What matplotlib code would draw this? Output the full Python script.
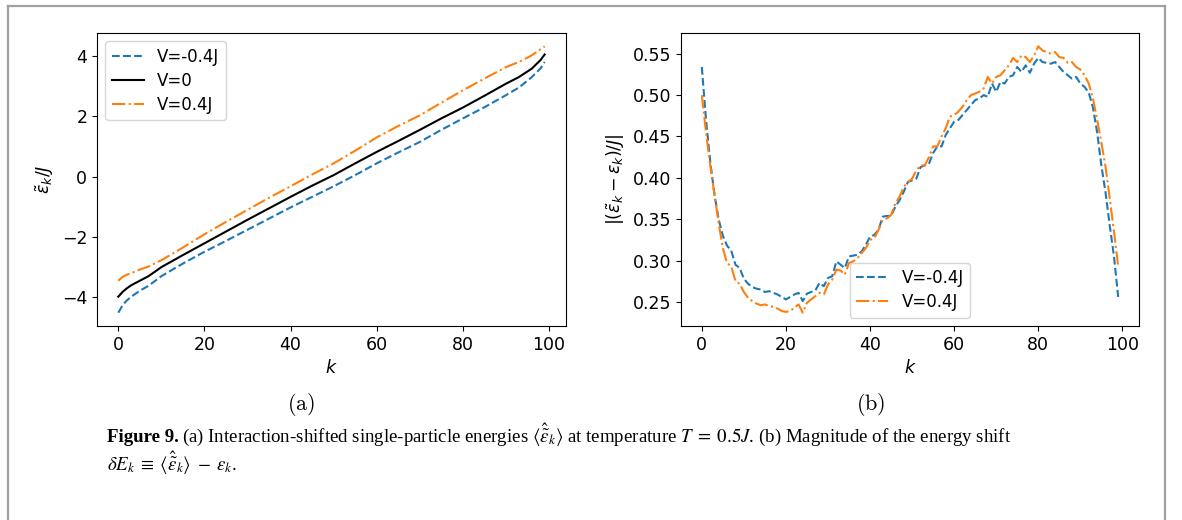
import matplotlib
matplotlib.use("Agg")
import matplotlib.pyplot as plt
from matplotlib.lines import Line2D

# panel (a): interaction-shifted energies, read at selected k
k_a = [0, 1, 2, 3, 5, 7, 10, 15, 20, 25, 30, 35, 40, 45, 50, 55, 60, 65, 70,
       75, 80, 85, 90, 93, 96, 98, 99]
eps_neg = [-4.51, -4.26, -4.10, -3.98, -3.78, -3.62, -3.30, -2.88, -2.49, -2.13,
           -1.76, -1.39, -1.02, -0.67, -0.32, 0.05, 0.44, 0.80, 1.15, 1.55,
           1.93, 2.30, 2.70, 2.95, 3.30, 3.58, 3.80]
eps_0 = [-3.98, -3.82, -3.70, -3.60, -3.45, -3.30, -3.00, -2.60, -2.21, -1.82,
         -1.43, -1.05, -0.67, -0.30, 0.05, 0.44, 0.82, 1.18, 1.55, 1.93,
         2.29, 2.68, 3.08, 3.30, 3.58, 3.86, 4.05]
eps_pos = [-3.45, -3.32, -3.25, -3.20, -3.08, -2.98, -2.77, -2.35, -1.91, -1.50,
           -1.10, -0.70, -0.32, 0.07, 0.44, 0.86, 1.30, 1.68, 2.03, 2.45,
           2.86, 3.25, 3.63, 3.80, 4.02, 4.22, 4.32]

# panel (b): |shift|, k = 0..99
k_b = list(range(100))
shift_neg = [0.534, 0.470, 0.420, 0.380, 0.350, 0.330, 0.318, 0.312, 0.295, 0.291,
             0.278, 0.272, 0.268, 0.266, 0.265, 0.262, 0.263, 0.261, 0.259, 0.256,
             0.253, 0.256, 0.259, 0.261, 0.251, 0.260, 0.262, 0.264, 0.273, 0.269,
             0.279, 0.281, 0.299, 0.295, 0.291, 0.305, 0.306, 0.307, 0.311, 0.319,
             0.329, 0.331, 0.337, 0.353, 0.354, 0.354, 0.365, 0.373, 0.383, 0.395,
             0.397, 0.399, 0.413, 0.415, 0.417, 0.430, 0.438, 0.438, 0.452, 0.460,
             0.468, 0.470, 0.476, 0.482, 0.488, 0.494, 0.496, 0.500, 0.498, 0.514,
             0.504, 0.516, 0.514, 0.522, 0.524, 0.534, 0.528, 0.536, 0.527, 0.538,
             0.545, 0.540, 0.539, 0.538, 0.540, 0.534, 0.528, 0.524, 0.520, 0.522,
             0.514, 0.510, 0.503, 0.485, 0.455, 0.415, 0.382, 0.342, 0.305, 0.256]
shift_pos = [0.500, 0.455, 0.415, 0.380, 0.345, 0.315, 0.297, 0.293, 0.275, 0.272,
             0.262, 0.255, 0.251, 0.248, 0.246, 0.247, 0.245, 0.244, 0.242, 0.239,
             0.238, 0.239, 0.243, 0.247, 0.237, 0.249, 0.253, 0.257, 0.261, 0.259,
             0.271, 0.277, 0.289, 0.288, 0.283, 0.297, 0.299, 0.303, 0.309, 0.315,
             0.325, 0.327, 0.337, 0.349, 0.351, 0.355, 0.369, 0.377, 0.389, 0.395,
             0.399, 0.409, 0.415, 0.415, 0.425, 0.438, 0.438, 0.450, 0.460, 0.474,
             0.476, 0.480, 0.486, 0.494, 0.500, 0.502, 0.504, 0.508, 0.522, 0.514,
             0.522, 0.524, 0.530, 0.536, 0.545, 0.540, 0.548, 0.546, 0.540, 0.548,
             0.559, 0.554, 0.552, 0.550, 0.552, 0.546, 0.545, 0.539, 0.540, 0.534,
             0.531, 0.524, 0.514, 0.496, 0.470, 0.443, 0.413, 0.375, 0.335, 0.293]

labels_a = ['V=-0.4J', 'V=0', 'V=0.4J']
labels_b = ['V=-0.4J', 'V=0.4J']

W, H = 1182, 520
fs = 12.5


def box(x0, y0, x1, y1):
    return [x0 / W, 1 - y1 / H, (x1 - x0) / W, (y1 - y0) / H]


fig = plt.figure(figsize=(W / 100, H / 100), dpi=100)
ax1 = fig.add_axes(box(97, 33, 566, 326))
ax2 = fig.add_axes(box(681, 33, 1139, 326))

ax1.plot(k_a, eps_neg, '--', color='#1f77b4', label=labels_a[0])
ax1.plot(k_a, eps_0, '-', color='black', label=labels_a[1])
ax1.plot(k_a, eps_pos, '-.', color='#ff7f0e', label=labels_a[2])
ax1.set_xticks([0, 20, 40, 60, 80, 100])
ax1.set_yticks([-4, -2, 0, 2, 4])
ax1.set_xlabel('$k$', fontsize=fs)
ax1.set_ylabel(r'$\tilde{\varepsilon}_k/J$', fontsize=fs)
ax1.legend(loc='upper left', fontsize=12, labelspacing=0.35, handlelength=1.9)

ax2.plot(k_b, shift_neg, '--', color='#1f77b4', label=labels_b[0])
ax2.plot(k_b, shift_pos, '-.', color='#ff7f0e', label=labels_b[1])
ax2.set_xticks([0, 20, 40, 60, 80, 100])
ax2.set_yticks([0.25, 0.30, 0.35, 0.40, 0.45, 0.50, 0.55])
ax2.set_xlabel('$k$', fontsize=fs)
ax2.set_ylabel(r'$|(\tilde{\varepsilon}_k - \varepsilon_k)/J|$', fontsize=fs)
ax2.legend(loc='lower center', fontsize=12, labelspacing=0.35, handlelength=1.9)

for ax in (ax1, ax2):
    ax.tick_params(labelsize=fs)

# sub-figure tags
fig.text(301 / W, 1 - 405 / H, r'$\mathrm{(a)}$', math_fontfamily='cm',
         fontsize=16, ha='center', va='center')
fig.text(871 / W, 1 - 405 / H, r'$\mathrm{(b)}$', math_fontfamily='cm',
         fontsize=16, ha='center', va='center')

# grey page frame
frame = dict(transform=fig.transFigure, color='#a0a0a0', lw=1.6)
fig.add_artist(Line2D([8 / W, 8 / W], [0, 1 - 6 / H], **frame))
fig.add_artist(Line2D([1165 / W, 1165 / W], [0, 1 - 6 / H], **frame))
fig.add_artist(Line2D([8 / W, 1165 / W], [1 - 6 / H, 1 - 6 / H], **frame))

# caption
cap_fs = 13.6
serif = 'Liberation Serif'
t1 = fig.text(107 / W, 1 - 442 / H, 'Figure 9.', family=serif, fontweight='bold',
              fontsize=cap_fs, va='baseline')
fig.canvas.draw()
x_end = t1.get_window_extent().x1 / W
fig.text(x_end + 3 / W, 1 - 442 / H,
         r'(a) Interaction-shifted single-particle energies '
         r'$\langle\hat{\tilde{\varepsilon}}_k\rangle$ at temperature '
         r'$T\;=\;0.5J$. (b) Magnitude of the energy shift',
         family=serif, math_fontfamily='stix', fontsize=cap_fs, va='baseline')
fig.text(107 / W, 1 - 471 / H,
         r'$\delta E_k\;\equiv\;\langle\hat{\tilde{\varepsilon}}_k\rangle\;-\;\varepsilon_k$.',
         family=serif, math_fontfamily='stix', fontsize=cap_fs, va='baseline')

fig.savefig('out.png', dpi=100)
